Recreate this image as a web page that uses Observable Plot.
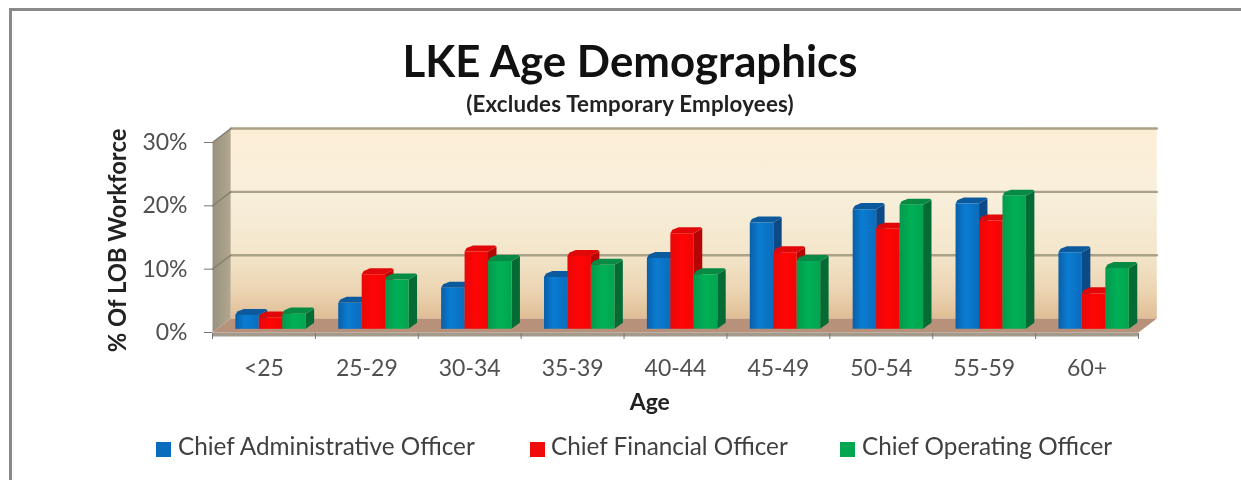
<!DOCTYPE html>
<html><head><meta charset="utf-8">
<script src="https://cdn.jsdelivr.net/npm/d3@7"></script>
<script src="https://cdn.jsdelivr.net/npm/@observablehq/plot@0.6"></script>
<style>
html,body{margin:0;padding:0;background:#fff}
#page{position:relative;width:1241px;height:480px;overflow:hidden;font-family:Lato,sans-serif;filter:blur(.7px)}
#frame{position:absolute;left:9px;top:8px;right:-10px;bottom:-10px;border-top:3px solid #8a8a8a;border-left:3px solid #8a8a8a}
#title{position:absolute;left:0;width:1260px;top:35px;text-align:center;font-size:43.8px;font-weight:700;color:#111;line-height:50px;margin:0}
#sub{position:absolute;left:0;width:1260px;top:92px;text-align:center;font-size:22.3px;font-weight:700;color:#222;line-height:24px;letter-spacing:.2px}
#chart{position:absolute;left:0;top:120px}
#chart svg{overflow:visible}
.lg{position:absolute;top:432px;font-size:24.3px;line-height:28px;color:#404040;white-space:nowrap}
.sw{position:absolute;top:442px;width:15px;height:15px}
</style></head><body>
<div id="page">
<div id="frame"></div>
<h1 id="title">LKE Age Demographics</h1>
<div id="sub">(Excludes Temporary Employees)</div>
<div id="chart"></div>
<div id="legend"></div>
</div>
<script>
const categories = ["<25","25-29","30-34","35-39","40-44","45-49","50-54","55-59","60+"];
const seriesNames = ["Chief Administrative Officer","Chief Financial Officer","Chief Operating Officer"];
const administrative = [2.2,4.1,6.5,8.2,11.2,16.8,18.9,19.8,12.1];
const financial = [1.8,8.6,12.2,11.5,15.1,12.1,15.8,17.1,5.6];
const operating = [2.4,7.8,10.7,10.1,8.6,10.7,19.6,21,9.6];
const yTicks = [0,10,20,30];
const series = [administrative,financial,operating];
const faceFill = [
  {front:"url(#fBlue)",side:"#0b4a86",top:"#0c5a9e",key:"#0a6cbd"},
  {front:"url(#fRed)",side:"#b50505",top:"#e00808",key:"#f00a0a"},
  {front:"url(#fGreen)",side:"#056b35",top:"#078a44",key:"#00a651"}
];
// chart geometry in data units (x: category index, y: percent)
const wallDX=.178, wallDY=2.2, barBase=.58, barW=.228, barStart=.222, sideDX=.082, sideDY=.95;
const maxY=yTicks[yTicks.length-1], n=categories.length;
const walls=[], barFaces=[];
function poly(list,id,fill,pts){pts.forEach(p=>list.push({id,fill,x:p[0],y:p[1]}));}
poly(walls,"left","url(#wallL)",[[0,0],[0,maxY],[wallDX,maxY+wallDY],[wallDX,wallDY]]);
poly(walls,"back","url(#wallB)",[[wallDX,wallDY],[wallDX,maxY+wallDY],[n+wallDX,maxY+wallDY],[n+wallDX,wallDY]]);
poly(walls,"floor","#b8917a",[[0,0],[n,0],[n+wallDX,wallDY],[wallDX,wallDY]]);
categories.forEach((c,i)=>{
  series.forEach((vals,s)=>{
    const x0=i+barStart+s*barW, x1=x0+barW, y0=barBase, y1=barBase+vals[i], f=faceFill[s], id=c+"-"+s;
    poly(barFaces,id+"side",f.side,[[x1,y0],[x1,y1],[x1+sideDX,y1+sideDY*.8],[x1+sideDX,y0+sideDY]]);
    poly(barFaces,id+"top",f.top,[[x0,y1],[x1,y1],[x1+sideDX,y1+sideDY*.8],[x1+sideDX-.015,y1+sideDY],[x0+sideDX,y1+sideDY],[x0+.02,y1+.55]]);
    poly(barFaces,id+"front",f.front,[[x0,y0],[x0,y1],[x1,y1],[x1,y0]]);
  });
});
const gridBack=[], gridLeft=[];
yTicks.slice(1).forEach(t=>{
  gridBack.push({t,x:wallDX,y:t+wallDY},{t,x:n+wallDX,y:t+wallDY});
  gridLeft.push({t,x:0,y:t},{t,x:wallDX,y:t+wallDY});
});
const defs=()=>{
  const svg=d3.create("svg:defs");
  const g=(id,dir,stops)=>{
    const l=svg.append("linearGradient").attr("id",id);
    if(dir==="v"){l.attr("x1",0).attr("y1",0).attr("x2",0).attr("y2",1);}
    stops.forEach(([o,c])=>l.append("stop").attr("offset",o).attr("stop-color",c));
  };
  g("wallB","v",[[0,"#fdeed6"],[.35,"#f8efdb"],[.65,"#f3e6cb"],[.85,"#ecd5b3"],[1,"#dfbd95"]]);
  g("wallL","h",[[0,"#97917f"],[1,"#b3a78f"]]);
  g("fBlue","h",[[0,"#0a5fa8"],[.4,"#0a7cd2"],[1,"#0b6cbc"]]);
  g("fRed","h",[[0,"#e80808"],[.5,"#ff0505"],[1,"#f00606"]]);
  g("fGreen","h",[[0,"#049a4c"],[.5,"#00b056"],[1,"#03a54f"]]);
  return svg.node();
};
const face=(rows)=>Plot.line(rows,{x:"x",y:"y",z:"id",fill:{value:"fill",scale:null},stroke:"none",curve:"linear-closed"});
const plot=Plot.plot({
  width:1241,height:295,
  marginLeft:212,marginRight:103,marginTop:22,marginBottom:83,
  x:{domain:[0,n]},
  y:{domain:[0,maxY]},
  style:{background:"transparent",fontFamily:"Lato,sans-serif",overflow:"visible"},
  marks:[
    defs,
    face(walls),
    Plot.line(gridBack,{x:"x",y:"y",z:"t",stroke:"#a9a188",strokeWidth:2.4}),
    Plot.line(gridLeft,{x:"x",y:"y",z:"t",stroke:"#86806f",strokeWidth:1.5}),
    face(barFaces),
    Plot.ruleY([0],{stroke:"#a39a8b",strokeWidth:4,dy:2}),
    Plot.axisY({ticks:yTicks,tickFormat:d=>d+"%",tickSize:8,tickPadding:17,label:null,fontSize:23,color:"#505050",stroke:"#777"}),
    Plot.axisX({ticks:d3.range(0,n+1),tickFormat:()=>"",tickSize:6,dy:1,label:null,stroke:"#777"}),
    Plot.axisX({ticks:categories.map((c,i)=>i+.5),tickFormat:(d)=>categories[Math.floor(d)],tickSize:0,tickPadding:27,label:null,fontSize:23,color:"#505050"}),
    Plot.text(["% Of LOB Workforce"],{frameAnchor:"left",textAnchor:"middle",rotate:-90,dx:-94,dy:3,fontSize:23.8,fontWeight:700,fill:"#222"}),
    Plot.text(["Age"],{x:()=>4.25,frameAnchor:"bottom",dy:77,fontSize:23,fontWeight:700,fill:"#222"})
  ]
});
document.getElementById("chart").append(plot);
const lgX=[[156,178],[530,551],[840,862]];
const lg=document.getElementById("legend");
seriesNames.forEach((s,i)=>{
  const sw=document.createElement("div");sw.className="sw";sw.style.left=lgX[i][0]+"px";sw.style.background=faceFill[i].key;lg.append(sw);
  const t=document.createElement("div");t.className="lg";t.style.left=lgX[i][1]+"px";t.textContent=s;lg.append(t);
});
</script>
</body></html>
